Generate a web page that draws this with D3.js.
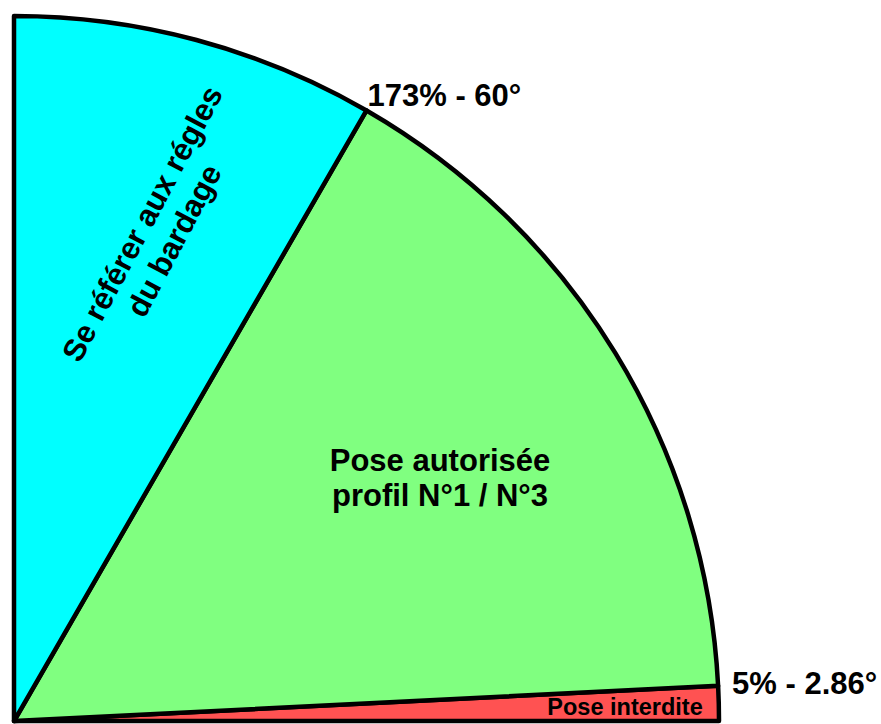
<!DOCTYPE html>
<html>
<head>
<meta charset="utf-8">
<script src="https://cdn.jsdelivr.net/npm/d3@7"></script>
<style>
  html, body { margin: 0; padding: 0; background: #fff; }
  svg { display: block; }
</style>
</head>
<body>
<div id="chart"></div>
<script>
// slope boundaries in degrees (0 = horizontal, 90 = vertical)
const zoneStart = [0, 2.86, 60];
const zoneEnd = [2.86, 60, 90];
const zoneColors = ['#ff5252', '#80ff80', '#00ffff'];
const zoneLabels = [['Pose interdite'], ['Pose autorisée', 'profil N°1 / N°3'], ['Se référer aux régles', 'du bardage']];
const limitAngles = [60, 2.86];
const limitLabels = ['173% - 60°', '5% - 2.86°'];

const W = 881, H = 724;
const cx = 14, cy = 721, R = 705;

const svg = d3.select('#chart').append('svg')
  .attr('width', W).attr('height', H)
  .attr('viewBox', [0, 0, W, H]);

// degrees -> d3.arc angle (0 at 12 o'clock, clockwise)
const ang = d3.scaleLinear().domain([0, 90]).range([Math.PI / 2, 0]);
const rad = d3.scaleLinear().domain([0, 90]).range([0, Math.PI / 2]);

const arc = d3.arc().innerRadius(0).outerRadius(R);

const g = svg.append('g').attr('transform', `translate(${cx},${cy})`);

g.selectAll('path.zone')
  .data(zoneStart.map((s, i) => ({ s, e: zoneEnd[i], c: zoneColors[i] })))
  .join('path')
    .attr('class', 'zone')
    .attr('d', d => arc({ startAngle: ang(d.e), endAngle: ang(d.s) }))
    .attr('fill', d => d.c)
    .attr('stroke', '#000')
    .attr('stroke-width', 4.5)
    .attr('stroke-linejoin', 'round');

const font = '"Liberation Sans", Arial, sans-serif';

// labels next to the limit lines, on the outer arc
const limitOffset = [[1, -4.5], [14, 8]];
g.selectAll('text.limit')
  .data(limitLabels)
  .join('text')
    .attr('class', 'limit')
    .attr('x', (d, i) => R * Math.cos(rad(limitAngles[i])) + limitOffset[i][0])
    .attr('y', (d, i) => -R * Math.sin(rad(limitAngles[i])) + limitOffset[i][1])
    .attr('font-family', font)
    .attr('font-weight', 'bold')
    .attr('font-size', 31)
    .attr('fill', '#000')
    .text(d => d);

// zone labels
function block(lines, x, y, size, lh, rot) {
  const t = svg.append('g').attr('transform', `translate(${x},${y}) rotate(${rot})`);
  lines.forEach((L, i) => {
    t.append('text')
      .attr('text-anchor', 'middle')
      .attr('y', (i - (lines.length - 1) / 2) * lh)
      .attr('dy', '0.35em')
      .attr('font-family', font)
      .attr('font-weight', 'bold')
      .attr('font-size', size)
      .attr('fill', '#000')
      .text(L);
  });
}

block(zoneLabels[0], 625, 707, 23.5, 20, 0);
block(zoneLabels[1], 440, 478, 31, 35, 0);
block(zoneLabels[2], 158, 232, 31, 36, -62);
</script>
</body>
</html>
